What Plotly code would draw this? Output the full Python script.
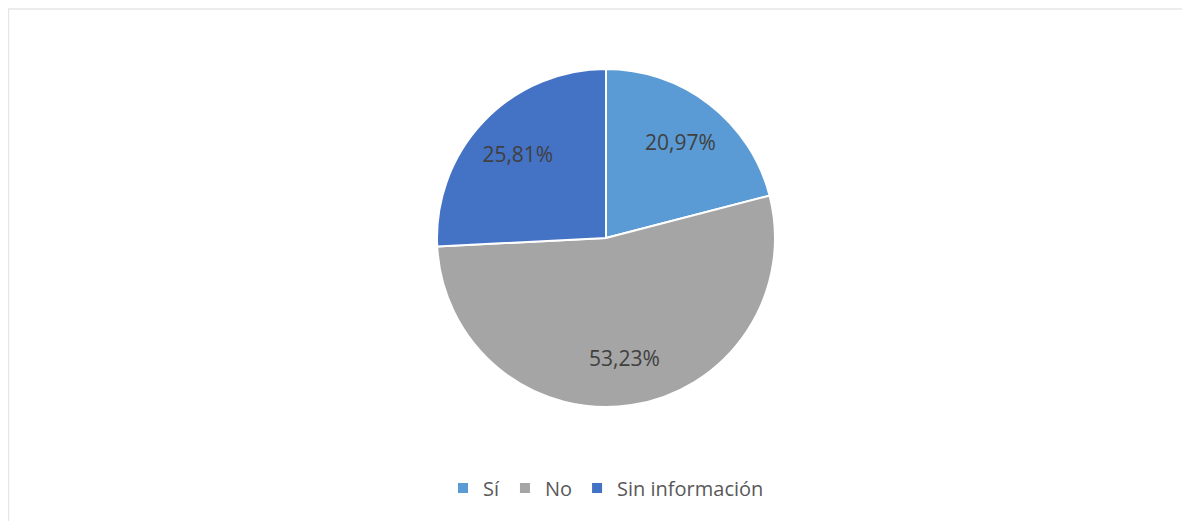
import plotly.graph_objects as go

categories = ["Sí", "No", "Sin información"]
counts = [13, 33, 16]
pct_labels = ["20,97%", "53,23%", "25,81%"]
colors = ["#5B9BD5", "#A5A5A5", "#4472C4"]
title_text = "otras universidades"

W, H = 1190, 521
pie_domain = dict(x=[429 / W, 767 / W], y=[(H - 399) / H, (H - 61) / H])

fig = go.Figure()
# coloured slices
fig.add_trace(go.Pie(
    labels=categories,
    values=counts,
    textinfo="none",
    marker=dict(colors=colors, line=dict(color="white", width=2)),
    sort=False,
    direction="clockwise",
    rotation=0,
    domain=pie_domain,
    hovertemplate="%{label}: %{text}<extra></extra>",
    text=pct_labels,
))
# data labels (transparent ring overlay so labels sit farther from the centre)
fig.add_trace(go.Pie(
    labels=categories,
    values=counts,
    text=pct_labels,
    textinfo="text",
    textposition="inside",
    insidetextorientation="horizontal",
    textfont=dict(family="Open Sans", size=21, color="#404040"),
    marker=dict(colors=["rgba(0,0,0,0)"] * 3, line=dict(width=0)),
    hole=0.44,
    sort=False,
    direction="clockwise",
    rotation=0,
    domain=pie_domain,
    showlegend=False,
    hoverinfo="skip",
))

fig.update_layout(
    width=W, height=H,
    margin=dict(l=0, r=0, t=0, b=0),
    paper_bgcolor="white",
    plot_bgcolor="white",
    showlegend=True,
    legend=dict(
        orientation="h",
        x=598 / W, xanchor="center",
        y=(H - 480) / H, yanchor="middle",
        font=dict(family="Open Sans", size=20, color="#595959"),
        itemsizing="constant",
    ),
    annotations=[dict(
        text="<b>" + title_text + "</b>",
        xref="paper", yref="paper",
        x=590 / W, xanchor="center",
        y=(H - 4.5) / H, yanchor="bottom",
        showarrow=False,
        font=dict(family="Liberation Sans", size=26, color="#000000"),
    )],
    shapes=[dict(
        type="rect", xref="paper", yref="paper",
        x0=0.6 / W, x1=(W + 2) / W, y0=-0.01, y1=(H - 1) / H,
        line=dict(color="#E6E6E6", width=1.3),
        fillcolor="rgba(0,0,0,0)",
        layer="below",
    )],
)

fig.write_html("out.html")
